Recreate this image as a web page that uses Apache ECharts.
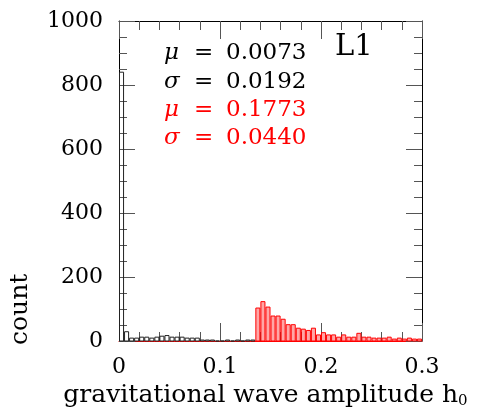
<!DOCTYPE html>
<html>
<head>
<meta charset="utf-8">
<script src="https://cdn.jsdelivr.net/npm/echarts@6/dist/echarts.min.js"></script>
<style>
  html, body { margin: 0; padding: 0; background: #fff; }
  #main { width: 484px; height: 408px; }
</style>
</head>
<body>
<div id="main"></div>
<script>
// histogram data, bin width 0.005
var binWidth = 0.005;
// black histogram: bins starting at 0
var blackStart = 0;
var blackCounts = [840, 29, 9, 9, 12, 12, 9, 12, 15, 17, 12, 12, 12, 9, 9, 9, 3, 3, 3, 0,
                   0, 3, 0, 3, 0, 3, 3];
// red histogram: bins starting at 0.135
var redStart = 0.135;
var redCounts = [103, 123, 106, 78, 78, 68, 51, 51, 40, 37, 33, 40, 19, 26, 19, 19, 12, 19,
                 12, 12, 24, 12, 12, 9, 9, 9, 12, 6, 9, 6, 9, 6, 6];
var xTickLabels = ['0', '0.1', '0.2', '0.3'];
var yTickLabels = ['0', '200', '400', '600', '800', '1000'];

var statSymbols = ['μ', 'σ', 'μ', 'σ'];
var statValues = ['0.0073', '0.0192', '0.1773', '0.0440'];
var statColors = ['#000', '#000', '#ff0000', '#ff0000'];

var FONT = '"DejaVu Serif", serif';

(function () {
    var myChart = echarts.init(document.getElementById('main'));

    function toData(start, counts) {
        return counts.map(function (c, i) { return [start + i * binWidth, c]; });
    }

    // 画直方图的矩形
    function histItem(stroke, fill) {
        return function (params, api) {
            var p0 = api.coord([api.value(0), 0]);
            var p1 = api.coord([api.value(0) + binWidth, api.value(1)]);
            return {
                type: 'rect',
                shape: { x: p0[0] + 0.5, y: p1[1], width: p1[0] - p0[0] - 1, height: p0[1] - p1[1] },
                style: { fill: fill, stroke: stroke, lineWidth: 1 }
            };
        };
    }

    var tickStyle = { color: '#555', width: 1 };

    var graphics = [];
    statSymbols.forEach(function (s, i) {
        var y = 56 + i * 28.3;
        graphics.push({ type: 'text', left: 164, top: y - 14, style: { text: s, font: 'italic 23px ' + FONT, fill: statColors[i] } });
        graphics.push({ type: 'text', left: 194, top: y - 14, style: { text: '=', font: '23px ' + FONT, fill: statColors[i] } });
        graphics.push({ type: 'text', left: 226, top: y - 14, style: { text: statValues[i], font: '23px ' + FONT, fill: statColors[i] } });
    });
    graphics.push({ type: 'text', left: 335, top: 33, style: { text: 'L1', font: '29px ' + FONT, fill: '#000' } });
    graphics.push({
        type: 'text', x: 8, y: 345, rotation: Math.PI / 2,
        style: { text: 'count', font: '25px ' + FONT, fill: '#000' }
    });

    var option = {
        animation: false,
        grid: { left: 119, top: 21, width: 303, height: 320, outerBoundsMode: 'none', containLabel: false },
        graphic: graphics,
        xAxis: [{
            type: 'value', min: 0, max: 0.3, interval: 0.1, position: 'bottom',
            axisLine: { onZero: false, lineStyle: { color: '#ff0000', width: 1 } },
            axisTick: { inside: true, length: 18, lineStyle: tickStyle },
            minorTick: { show: true, splitNumber: 5, length: 9, lineStyle: tickStyle },
            splitLine: { show: false },
            axisLabel: {
                margin: 15, color: '#000', fontFamily: FONT, fontSize: 22,
                formatter: function (v, i) { return xTickLabels[i]; }
            },
            name: 'gravitational wave amplitude h{sub|0}',
            nameLocation: 'middle', nameGap: 39,
            nameTextStyle: {
                color: '#000', fontFamily: FONT, fontSize: 25, padding: [0, 10, 0, 0],
                rich: { sub: { fontFamily: FONT, fontSize: 15, color: '#000', padding: [12, 0, 0, 0] } }
            }
        }, {
            type: 'value', min: 0, max: 0.3, interval: 0.1, position: 'top',
            axisLine: { onZero: false, lineStyle: { color: '#000', width: 1 } },
            axisTick: { inside: true, length: 18, lineStyle: tickStyle },
            minorTick: { show: true, splitNumber: 5, length: 9, lineStyle: tickStyle },
            splitLine: { show: false },
            axisLabel: { show: false }
        }],
        yAxis: [{
            type: 'value', min: 0, max: 1000, interval: 200, position: 'left',
            axisLine: { show: true, onZero: false, lineStyle: { color: '#000', width: 1 } },
            axisTick: { show: true, inside: true, length: 16, lineStyle: tickStyle },
            minorTick: { show: true, splitNumber: 4, length: 8, lineStyle: tickStyle },
            splitLine: { show: false },
            axisLabel: {
                margin: 16, color: '#000', fontFamily: FONT, fontSize: 22,
                formatter: function (v, i) { return yTickLabels[i]; }
            }
        }, {
            type: 'value', min: 0, max: 1000, interval: 200, position: 'right',
            axisLine: { show: true, onZero: false, lineStyle: { color: '#000', width: 1 } },
            axisTick: { show: true, inside: true, length: 16, lineStyle: tickStyle },
            minorTick: { show: true, splitNumber: 4, length: 8, lineStyle: tickStyle },
            splitLine: { show: false },
            axisLabel: { show: false }
        }],
        series: [{
            type: 'custom', xAxisIndex: 0, yAxisIndex: 0,
            renderItem: histItem('#222', 'rgba(255,255,255,0)'),
            encode: { x: 0, y: 1 },
            data: toData(blackStart, blackCounts),
            z: 3
        }, {
            type: 'custom', xAxisIndex: 0, yAxisIndex: 0,
            renderItem: histItem('#ff0000', 'rgba(255,0,0,0.35)'),
            encode: { x: 0, y: 1 },
            data: toData(redStart, redCounts),
            z: 4
        }]
    };

    myChart.setOption(option);
})();
</script>
</body>
</html>
